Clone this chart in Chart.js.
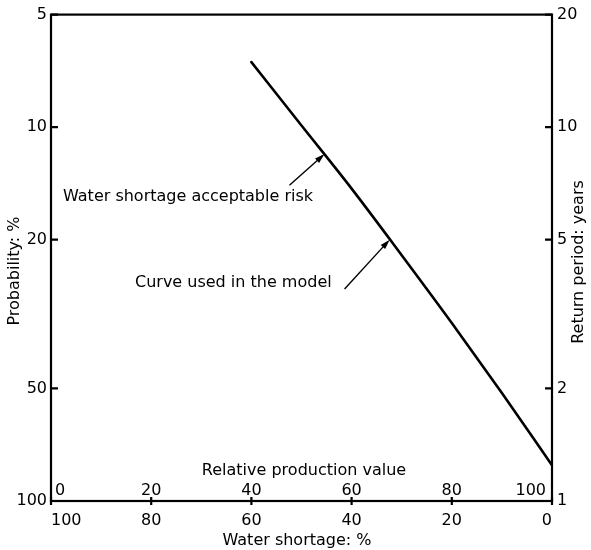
<!DOCTYPE html>
<html>
<head>
<meta charset="utf-8">
<script src="https://cdn.jsdelivr.net/npm/chart.js@4"></script>
<style>
  html, body { margin: 0; padding: 0; background: #fff; }
  #wrap { width: 591px; height: 550px; }
</style>
</head>
<body>
<div id="wrap"><canvas id="chart" width="591" height="550"></canvas></div>
<script>
"use strict";

// water shortage (%) along the bottom axis
const waterShortage = [60, 50, 40, 30, 20, 10, 0];
// probability (%)
const probability = [6.7, 9.9, 14.6, 22.0, 33.4, 51.4, 80.2];

const probTicks = [5, 10, 20, 50, 100];
const returnTicks = [1, 2, 5, 10, 20];       // return period = 100 / probability
const shortageTicks = [0, 20, 40, 60, 80, 100];
const productionTicks = [0, 20, 40, 60, 80, 100]; // relative production = 100 - shortage

const noteLabels = ["Water shortage acceptable risk", "Curve used in the model"];

const FONT = "DejaVu Sans";

function arrow(ctx, x0, y0, x1, y1) {
  const ang = Math.atan2(y1 - y0, x1 - x0);
  ctx.beginPath();
  ctx.moveTo(x0, y0);
  ctx.lineTo(x1 - 6 * Math.cos(ang), y1 - 6 * Math.sin(ang));
  ctx.lineWidth = 1.4;
  ctx.stroke();
  ctx.beginPath();
  ctx.moveTo(x1, y1);
  ctx.lineTo(x1 - 10 * Math.cos(ang) + 3 * Math.sin(ang), y1 - 10 * Math.sin(ang) - 3 * Math.cos(ang));
  ctx.lineTo(x1 - 10 * Math.cos(ang) - 3 * Math.sin(ang), y1 - 10 * Math.sin(ang) + 3 * Math.cos(ang));
  ctx.closePath();
  ctx.fill();
}

// frame, inward ticks, second x scale labels, titles and pointers
const frame = {
  id: "frame",
  afterDraw(chart) {
    const { ctx, chartArea: a, scales } = chart;
    const x = scales.x, y = scales.y, y2 = scales.y2;
    ctx.save();
    ctx.strokeStyle = "#000";
    ctx.fillStyle = "#000";
    ctx.lineWidth = 2.2;
    ctx.strokeRect(a.left, a.top, a.right - a.left, a.bottom - a.top);

    ctx.beginPath();
    probTicks.forEach((v) => { const py = y.getPixelForValue(v); ctx.moveTo(a.left, py); ctx.lineTo(a.left + 7, py); });
    returnTicks.forEach((v) => { const py = y2.getPixelForValue(v); ctx.moveTo(a.right, py); ctx.lineTo(a.right - 7, py); });
    shortageTicks.forEach((v) => { const px = x.getPixelForValue(v); ctx.moveTo(px, a.bottom - 4); ctx.lineTo(px, a.bottom + 4); });
    ctx.stroke();

    ctx.font = "16px '" + FONT + "'";
    ctx.textBaseline = "alphabetic";
    productionTicks.forEach((v, i) => {
      let px = x.getPixelForValue(100 - v);
      ctx.textAlign = "center";
      if (i === 0) { ctx.textAlign = "left"; px += 4; }
      if (i === productionTicks.length - 1) { ctx.textAlign = "right"; px -= 6; }
      ctx.fillText(String(v), px, a.bottom - 6);
    });
    ctx.textAlign = "center";
    ctx.fillText("Relative production value", 304, a.bottom - 26);
    ctx.fillText("Water shortage: %", 297, 545);

    ctx.save();
    ctx.translate(15, 271);
    ctx.rotate(-Math.PI / 2);
    ctx.textBaseline = "middle";
    ctx.fillText("Probability: %", 0, 0);
    ctx.restore();
    ctx.save();
    ctx.translate(579, 262);
    ctx.rotate(-Math.PI / 2);
    ctx.textBaseline = "middle";
    ctx.fillText("Return period: years", 0, 0);
    ctx.restore();

    // pointers onto the curve
    ctx.textAlign = "left";
    ctx.textBaseline = "middle";
    ctx.fillText(noteLabels[0], 63, 197);
    ctx.fillText(noteLabels[1], 135, 283);
    arrow(ctx, x.getPixelForValue(52.4), y.getPixelForValue(14.3), x.getPixelForValue(45.4), y.getPixelForValue(11.8));
    arrow(ctx, x.getPixelForValue(41.4), y.getPixelForValue(27.1), x.getPixelForValue(32.4), y.getPixelForValue(20));
    ctx.restore();
  },
};

const tickFont = { family: FONT, size: 16 };
const noGrid = { display: false, drawTicks: false };

new Chart(document.getElementById("chart"), {
  type: "line",
  data: {
    datasets: [{
      data: waterShortage.map((w, i) => ({ x: w, y: probability[i] })),
      borderColor: "#000",
      borderWidth: 2.6,
      borderCapStyle: "round",
      pointRadius: 0,
      fill: false,
      cubicInterpolationMode: "monotone",
    }],
  },
  options: {
    responsive: false,
    animation: false,
    layout: { padding: { top: 12, left: 0, right: 0, bottom: 0 } },
    plugins: { legend: { display: false }, tooltip: { enabled: false } },
    scales: {
      x: {
        type: "linear",
        reverse: true,
        min: 0,
        max: 100,
        grid: noGrid,
        border: { display: false },
        afterBuildTicks: (s) => { s.ticks = shortageTicks.map((v) => ({ value: v })); },
        afterFit: (s) => { s.height = 49; },
        ticks: { color: "#000", font: tickFont, padding: 10, align: "inner", maxRotation: 0, callback: (v) => String(v) },
      },
      y: {
        type: "logarithmic",
        position: "left",
        reverse: true,
        min: 5,
        max: 100,
        grid: noGrid,
        border: { display: false },
        afterBuildTicks: (s) => { s.ticks = probTicks.map((v) => ({ value: v })); },
        afterFit: (s) => { s.width = 51; },
        ticks: { color: "#000", font: tickFont, padding: 4, callback: (v) => String(v) },
      },
      y2: {
        type: "logarithmic",
        position: "right",
        min: 1,
        max: 20,
        grid: noGrid,
        border: { display: false },
        afterBuildTicks: (s) => { s.ticks = returnTicks.map((v) => ({ value: v })); },
        afterFit: (s) => { s.width = 39; },
        ticks: { color: "#000", font: tickFont, padding: 5, callback: (v) => String(v) },
      },
    },
  },
  plugins: [frame],
});
</script>
</body>
</html>
